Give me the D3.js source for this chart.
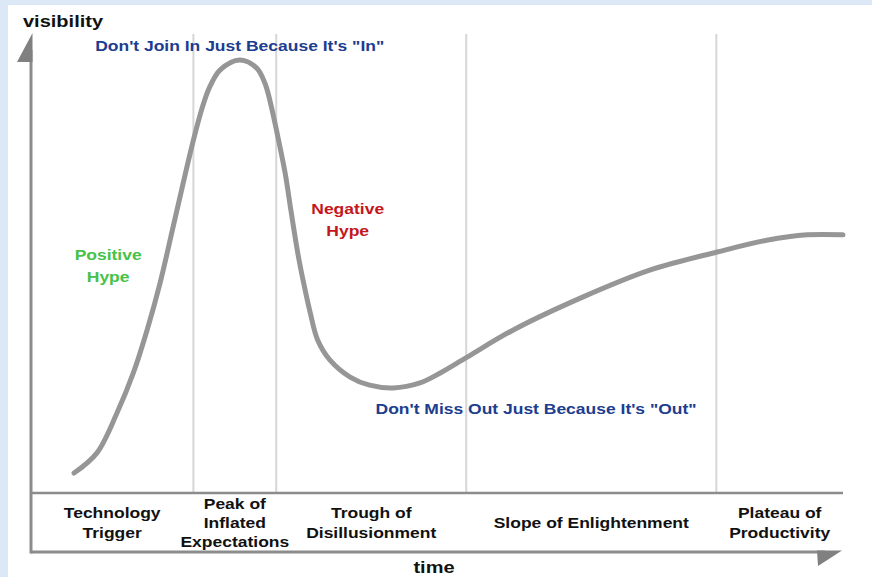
<!DOCTYPE html>
<html>
<head>
<meta charset="utf-8">
<script src="https://cdn.jsdelivr.net/npm/d3@7"></script>
<style>
  body { margin:0; padding:0; background:#dde8f6; }
  svg text { font-family: "Liberation Sans", Arial, Helvetica, sans-serif; font-weight:bold; }
</style>
</head>
<body>
<div class="chart"></div>
<script>
// hype curve (time 0-100, visibility 0-100)
var curveTime = [5.3, 8.1, 10.6, 12.6, 14.3, 15.9, 17.7, 20.0, 21.2, 22.0, 23.3, 25.7, 27.8, 28.8, 29.4, 30.3, 31.3, 32.0, 32.9, 33.5, 34.4, 35.3, 36.8, 39.3, 41.7, 44.6, 47.9, 50.4, 53.7, 59.4, 68.0, 76.2, 84.5, 90.6, 95.6, 100];
var curveVis  = [4.4, 8.8, 17.7, 26.5, 36.0, 46.4, 60.3, 77.9, 85.7, 89.6, 93.4, 95.6, 93.8, 90.5, 86.8, 79.5, 70.6, 62.5, 52.5, 47.0, 39.7, 33.8, 29.4, 25.6, 23.8, 23.2, 24.3, 26.5, 30.0, 36.0, 43.3, 49.2, 53.2, 55.8, 57.0, 57.0];

// phase boundaries on the time axis, and the phase names
var phaseEdges = [0, 20.0, 30.2, 53.6, 84.4, 100];
var phaseNames = [
  ["Technology", "Trigger"],
  ["Peak of", "Inflated", "Expectations"],
  ["Trough of", "Disillusionment"],
  ["Slope of Enlightenment"],
  ["Plateau of", "Productivity"]
];

// annotations: text lines, colour, position in (time, visibility)
var noteLines  = [["Don't Join In Just Because It's \"In\""], ["Positive", "Hype"], ["Negative", "Hype"], ["Don't Miss Out Just Because It's \"Out\""]];
var noteColors = ["#1d3d8f", "#46c246", "#c4161c", "#1d3d8f"];
var noteTime   = [25.7, 9.5, 39.0, 62.2];
var noteVis    = [97.5, 51.5, 61.5, 17.5];

var values = { width:872, height:577, left:31, right:843, top:40, base:493, bottom:552 };
var sx = 1.25; // the picture is stretched sideways

var svg = d3.select('.chart')
            .append('svg')
            .attr("width", values.width)
            .attr("height", values.height);

// light blue frame, white page
svg.append("rect").attr("width", values.width).attr("height", values.height).attr("fill", "#dde8f6");
svg.append("rect").attr("x", 8).attr("y", 5).attr("width", values.width - 8).attr("height", values.height - 5).attr("fill", "#ffffff");

var x = d3.scaleLinear().domain([0, 100]).range([values.left, values.right]);
var y = d3.scaleLinear().domain([0, 100]).range([values.base, values.top]);

// phase dividers
svg.selectAll("line.divider")
    .data(phaseEdges.slice(1, -1))
    .enter()
    .append("line")
    .attr("class", "divider")
    .attr("x1", function (d) { return x(d); })
    .attr("x2", function (d) { return x(d); })
    .attr("y1", 34)
    .attr("y2", values.base)
    .attr("stroke", "#d6d6d6")
    .attr("stroke-width", 2);

// axes: y axis, band top, time axis
var axisColor = "#8c8c8c";
svg.append("line")
    .attr("x1", values.left).attr("x2", values.left)
    .attr("y1", 50).attr("y2", values.bottom + 1.5)
    .attr("stroke", axisColor).attr("stroke-width", 3);
svg.append("line")
    .attr("x1", values.left).attr("x2", values.right)
    .attr("y1", values.base).attr("y2", values.base)
    .attr("stroke", axisColor).attr("stroke-width", 2.5);
svg.append("line")
    .attr("x1", values.left).attr("x2", 825)
    .attr("y1", values.bottom).attr("y2", values.bottom)
    .attr("stroke", axisColor).attr("stroke-width", 3);

// half arrow heads
svg.append("path")
    .attr("d", "M" + (values.left + 1.5) + ",33L" + (values.left + 1.5) + ",62L17,62Z")
    .attr("fill", "#808080");
svg.append("path")
    .attr("d", "M817," + (values.bottom - 1.5) + "L842," + (values.bottom - 1.5) + "L818,566Z")
    .attr("fill", "#808080");

// axis titles
svg.append("text")
    .attr("transform", "translate(23,27) scale(" + sx + ",1)")
    .style("font-size", "16px")
    .attr("fill", "#111")
    .text("visibility");
svg.append("text")
    .attr("transform", "translate(434,573) scale(" + sx + ",1)")
    .style("font-size", "16px")
    .style("text-anchor", "middle")
    .attr("fill", "#111")
    .text("time");

// the hype curve
var line = d3.line()
    .x(function (d, i) { return x(curveTime[i]); })
    .y(function (d) { return y(d); })
    .curve(d3.curveCatmullRom.alpha(0.5));
svg.append("path")
    .datum(curveVis)
    .attr("d", line)
    .attr("fill", "none")
    .attr("stroke", "#969696")
    .attr("stroke-width", 5)
    .attr("stroke-linecap", "round");

// phase names in the band
var bandMid = (values.base + values.bottom) / 2;
phaseNames.forEach(function (lines, i) {
  var cx = x((phaseEdges[i] + phaseEdges[i + 1]) / 2);
  var lh = lines.length > 2 ? 19 : 20;
  var first = bandMid - (lines.length - 1) * lh / 2 + 5;
  lines.forEach(function (t, j) {
    svg.append("text")
        .attr("transform", "translate(" + cx + "," + (first + j * lh) + ") scale(" + sx + ",1)")
        .style("font-size", "14px")
        .style("text-anchor", "middle")
        .attr("fill", "#111")
        .text(t);
  });
});

// annotations
noteLines.forEach(function (lines, i) {
  var cx = x(noteTime[i]), cy = y(noteVis[i]);
  lines.forEach(function (t, j) {
    svg.append("text")
        .attr("transform", "translate(" + cx + "," + (cy + j * 22) + ") scale(" + sx + ",1)")
        .style("font-size", "14px")
        .style("text-anchor", "middle")
        .attr("fill", noteColors[i])
        .text(t);
  });
});
</script>
</body>
</html>
